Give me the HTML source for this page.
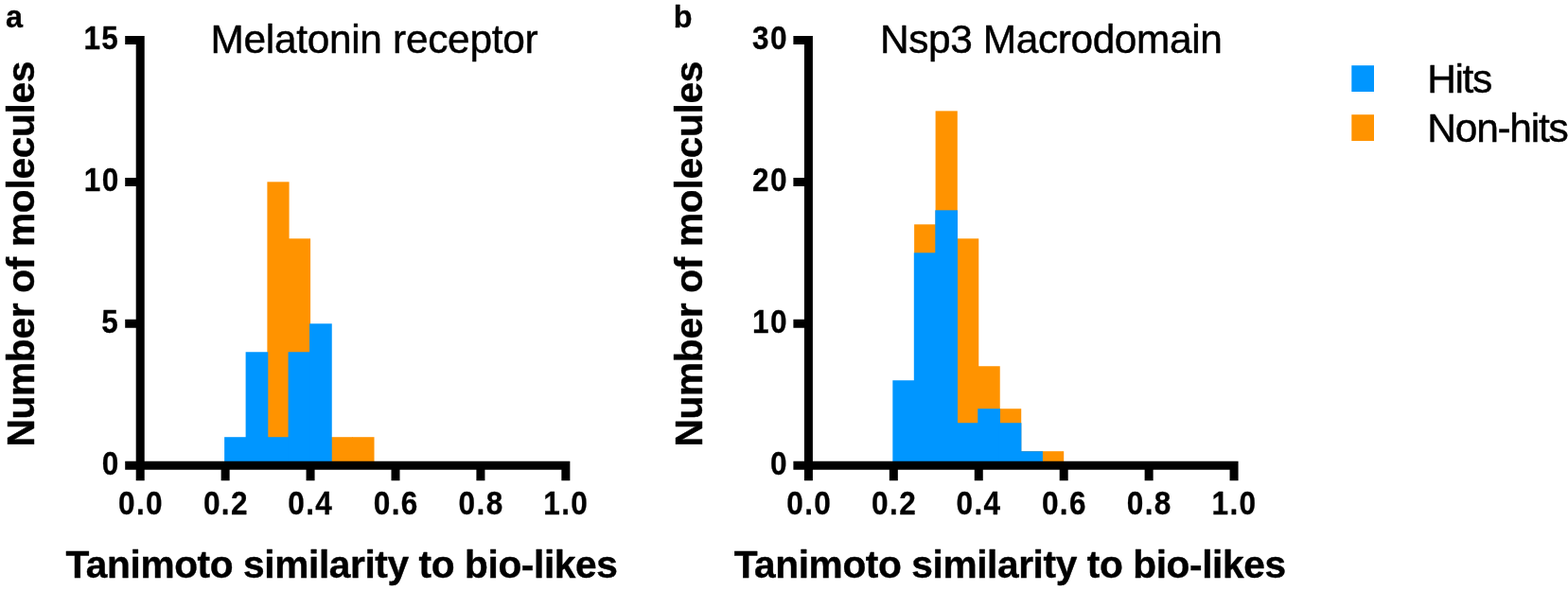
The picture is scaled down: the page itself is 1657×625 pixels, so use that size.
<!DOCTYPE html>
<html lang="en"><head><meta charset="utf-8"><title>Tanimoto similarity to bio-likes</title>
<style>
html,body{margin:0;padding:0;background:#fff;}
body{width:1657px;height:625px;overflow:hidden;}
svg{display:block;position:absolute;left:0;top:0;}
text{font-family:"Liberation Sans",Arial,Helvetica,sans-serif;fill:#000;stroke:#000;stroke-linejoin:round;white-space:pre;}
.tk{font-weight:bold;font-size:34.3px;stroke-width:0.3px;}
.ti{font-weight:normal;font-size:42.4px;stroke-width:0.45px;}
.ax{font-weight:bold;font-size:41.5px;stroke-width:0.4px;}
.pl{font-weight:bold;font-size:32.4px;stroke-width:0.3px;}
.lg{font-weight:normal;font-size:42.5px;stroke-width:0.45px;}
</style></head><body>
<svg role="img" aria-label="Histograms of Tanimoto similarity to bio-likes for hits and non-hits" width="1657" height="625" viewBox="0 0 1657 625">
<rect x="0" y="0" width="1657" height="625" fill="#fff"/>
<!-- panel a -->
<g fill="#ff9300">
<rect x="282.4" y="192.33" width="23.18" height="299.97"/>
<rect x="304.88" y="252.31" width="23.18" height="239.99"/>
<rect x="349.84" y="462.21" width="23.18" height="30.09"/>
<rect x="372.32" y="462.21" width="23.18" height="30.09"/>
</g>
<g fill="#0096ff">
<rect x="237.13" y="462.21" width="23.68" height="30.09"/>
<rect x="259.61" y="372.25" width="23.68" height="120.05"/>
<rect x="282.1" y="462.21" width="23.68" height="30.09"/>
<rect x="304.58" y="372.25" width="23.68" height="120.05"/>
<rect x="327.06" y="342.27" width="23.68" height="150.03"/>
</g>
<path d="M148.2 38V496.8M143.7 492.3H602.35M132.2 492.3H148.2M132.2 342.37H148.2M132.2 192.43H148.2M132.2 42.5H148.2M148.2 492.3V508.3M238.13 492.3V508.3M328.06 492.3V508.3M417.99 492.3V508.3M507.92 492.3V508.3M597.85 492.3V508.3" stroke="#000" stroke-width="9.0" fill="none"/>
<text class="tk" transform="translate(107.74 501.8) scale(0.9200 1)" style="letter-spacing:1.500px">0</text>
<text class="tk" transform="translate(107.33 351.87) scale(0.9200 1)" style="letter-spacing:1.500px">5</text>
<text class="tk" transform="translate(88.81 201.93) scale(0.9200 1)" style="letter-spacing:1.500px">10</text>
<text class="tk" transform="translate(88.4 52) scale(0.9200 1)" style="letter-spacing:1.500px">15</text>
<text class="tk" transform="translate(125.01 543.9) scale(0.9200 1)" style="letter-spacing:1.500px">0.0</text>
<text class="tk" transform="translate(214.92 543.9) scale(0.9200 1)" style="letter-spacing:1.500px">0.2</text>
<text class="tk" transform="translate(304.31 543.9) scale(0.9200 1)" style="letter-spacing:1.500px">0.4</text>
<text class="tk" transform="translate(394.72 543.9) scale(0.9200 1)" style="letter-spacing:1.500px">0.6</text>
<text class="tk" transform="translate(484.57 543.9) scale(0.9200 1)" style="letter-spacing:1.500px">0.8</text>
<text class="tk" transform="translate(574.29 543.9) scale(0.9200 1)" style="letter-spacing:1.500px">1.0</text>
<text class="ti" transform="translate(222.52 55.8)" style="letter-spacing:-0.299px">Melatonin receptor</text>
<text class="pl" transform="translate(6.05 28.6)">a</text>
<text class="ax" transform="translate(36 472.62) rotate(-90) scale(0.9800 1)" style="letter-spacing:-0.305px">Number of molecules</text>
<text class="ax" transform="translate(69.44 611.1) scale(0.9800 1)" style="letter-spacing:-0.405px">Tanimoto similarity to bio-likes</text>
<!-- panel b -->
<g fill="#ff9300">
<rect x="966.11" y="237.31" width="23.18" height="254.99"/>
<rect x="988.6" y="117.37" width="23.18" height="374.93"/>
<rect x="1011.08" y="252.31" width="23.18" height="239.99"/>
<rect x="1033.56" y="387.25" width="23.18" height="105.05"/>
<rect x="1056.04" y="432.23" width="23.18" height="60.07"/>
<rect x="1078.53" y="477.21" width="23.18" height="15.09"/>
<rect x="1101.01" y="477.21" width="23.18" height="15.09"/>
</g>
<g fill="#0096ff">
<rect x="943.33" y="402.24" width="23.68" height="90.06"/>
<rect x="965.81" y="267.3" width="23.68" height="225"/>
<rect x="988.3" y="222.32" width="23.68" height="269.98"/>
<rect x="1010.78" y="447.22" width="23.68" height="45.08"/>
<rect x="1033.26" y="432.23" width="23.68" height="60.07"/>
<rect x="1055.74" y="447.22" width="23.68" height="45.08"/>
<rect x="1078.23" y="477.21" width="23.68" height="15.09"/>
</g>
<path d="M854.4 38V496.8M849.9 492.3H1308.55M838.4 492.3H854.4M838.4 342.37H854.4M838.4 192.43H854.4M838.4 42.5H854.4M854.4 492.3V508.3M944.33 492.3V508.3M1034.26 492.3V508.3M1124.19 492.3V508.3M1214.12 492.3V508.3M1304.05 492.3V508.3" stroke="#000" stroke-width="9.0" fill="none"/>
<text class="tk" transform="translate(813.94 501.8) scale(0.9200 1)" style="letter-spacing:1.500px">0</text>
<text class="tk" transform="translate(795.01 351.87) scale(0.9200 1)" style="letter-spacing:1.500px">10</text>
<text class="tk" transform="translate(795.01 201.93) scale(0.9200 1)" style="letter-spacing:1.500px">20</text>
<text class="tk" transform="translate(795.01 52) scale(0.9200 1)" style="letter-spacing:1.500px">30</text>
<text class="tk" transform="translate(831.21 543.9) scale(0.9200 1)" style="letter-spacing:1.500px">0.0</text>
<text class="tk" transform="translate(921.12 543.9) scale(0.9200 1)" style="letter-spacing:1.500px">0.2</text>
<text class="tk" transform="translate(1010.51 543.9) scale(0.9200 1)" style="letter-spacing:1.500px">0.4</text>
<text class="tk" transform="translate(1100.92 543.9) scale(0.9200 1)" style="letter-spacing:1.500px">0.6</text>
<text class="tk" transform="translate(1190.77 543.9) scale(0.9200 1)" style="letter-spacing:1.500px">0.8</text>
<text class="tk" transform="translate(1280.49 543.9) scale(0.9200 1)" style="letter-spacing:1.500px">1.0</text>
<text class="ti" transform="translate(929.92 55.8)" style="letter-spacing:-0.380px">Nsp3 Macrodomain</text>
<text class="pl" transform="translate(711.86 28.6)">b</text>
<text class="ax" transform="translate(742.2 472.62) rotate(-90) scale(0.9800 1)" style="letter-spacing:-0.305px">Number of molecules</text>
<text class="ax" transform="translate(775.64 611.1) scale(0.9800 1)" style="letter-spacing:-0.405px">Tanimoto similarity to bio-likes</text>
<!-- legend -->
<rect x="1428.3" y="69.2" width="23.7" height="27.8" fill="#0096ff"/>
<rect x="1428.3" y="121.2" width="23.7" height="27.8" fill="#ff9300"/>
<text class="lg" transform="translate(1508.36 97.9)" style="letter-spacing:-1.440px">Hits</text>
<text class="lg" transform="translate(1508.36 149.9)" style="letter-spacing:-1.276px">Non-hits</text>
</svg>
</body></html>
